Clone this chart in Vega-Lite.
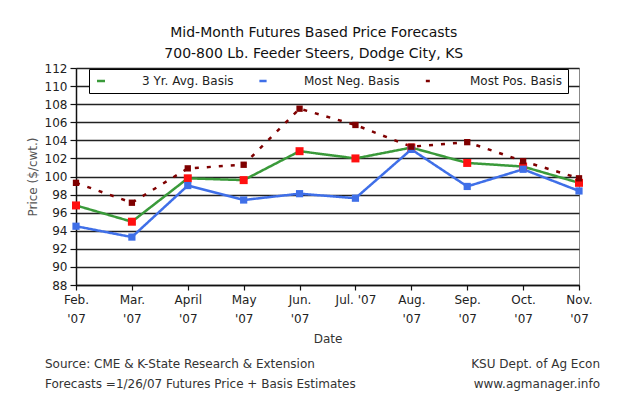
{
  "$schema": "https://vega.github.io/schema/vega-lite/v6.json",
  "background": "white",
  "padding": {"left": 25, "top": 25, "right": 5, "bottom": 5},
  "config": {
    "font": "DejaVu Sans",
    "view": {"stroke": null},
    "concat": {"spacing": 13}
  },
  "title": {
    "text": ["Mid-Month Futures Based Price Forecasts", "700-800 Lb. Feeder Steers, Dodge City, KS"],
    "fontSize": 14,
    "fontWeight": "normal",
    "color": "#111",
    "lineHeight": 21,
    "anchor": "middle",
    "dx": 1,
    "offset": 1
  },
  "vconcat": [
    {
      "width": 503,
      "height": 217,
      "view": {"stroke": "#888", "strokeWidth": 1},
      "data": {
        "values": [
          {"month": "Feb. '07", "series": "3 Yr. Avg. Basis", "price": 96.8},
          {"month": "Mar. '07", "series": "3 Yr. Avg. Basis", "price": 95.0},
          {"month": "April '07", "series": "3 Yr. Avg. Basis", "price": 99.8},
          {"month": "May '07", "series": "3 Yr. Avg. Basis", "price": 99.6},
          {"month": "Jun. '07", "series": "3 Yr. Avg. Basis", "price": 102.8},
          {"month": "Jul. '07", "series": "3 Yr. Avg. Basis", "price": 102.0},
          {"month": "Aug. '07", "series": "3 Yr. Avg. Basis", "price": 103.2},
          {"month": "Sep. '07", "series": "3 Yr. Avg. Basis", "price": 101.5},
          {"month": "Oct. '07", "series": "3 Yr. Avg. Basis", "price": 101.1},
          {"month": "Nov. '07", "series": "3 Yr. Avg. Basis", "price": 99.3},
          {"month": "Feb. '07", "series": "Most Neg. Basis", "price": 94.5},
          {"month": "Mar. '07", "series": "Most Neg. Basis", "price": 93.3},
          {"month": "April '07", "series": "Most Neg. Basis", "price": 99.0},
          {"month": "May '07", "series": "Most Neg. Basis", "price": 97.4},
          {"month": "Jun. '07", "series": "Most Neg. Basis", "price": 98.1},
          {"month": "Jul. '07", "series": "Most Neg. Basis", "price": 97.6},
          {"month": "Aug. '07", "series": "Most Neg. Basis", "price": 103.0},
          {"month": "Sep. '07", "series": "Most Neg. Basis", "price": 98.9},
          {"month": "Oct. '07", "series": "Most Neg. Basis", "price": 100.8},
          {"month": "Nov. '07", "series": "Most Neg. Basis", "price": 98.4},
          {"month": "Feb. '07", "series": "Most Pos. Basis", "price": 99.3},
          {"month": "Mar. '07", "series": "Most Pos. Basis", "price": 97.1},
          {"month": "April '07", "series": "Most Pos. Basis", "price": 100.9},
          {"month": "May '07", "series": "Most Pos. Basis", "price": 101.3},
          {"month": "Jun. '07", "series": "Most Pos. Basis", "price": 107.5},
          {"month": "Jul. '07", "series": "Most Pos. Basis", "price": 105.7},
          {"month": "Aug. '07", "series": "Most Pos. Basis", "price": 103.3},
          {"month": "Sep. '07", "series": "Most Pos. Basis", "price": 103.8},
          {"month": "Oct. '07", "series": "Most Pos. Basis", "price": 101.7},
          {"month": "Nov. '07", "series": "Most Pos. Basis", "price": 99.8}
        ]
      },
      "encoding": {
        "x": {
          "field": "month",
          "type": "ordinal",
          "sort": null,
          "scale": {"type": "point", "padding": 0},
          "title": "Date",
          "axis": {
            "labelAngle": 0,
            "labelExpr": "substring(datum.value, 0, 3) == 'Jul' ? datum.value : split(datum.value, ' ')",
            "labelFontSize": 12,
            "labelLineHeight": 19,
            "labelColor": "#222",
            "labelPadding": 4,
            "domainColor": "#111",
            "domainWidth": 1.5,
            "tickColor": "#111",
            "tickSize": 5,
            "tickWidth": 1.2,
            "titleFontSize": 12,
            "titleFontWeight": "normal",
            "titleColor": "#333",
            "titlePadding": 9,
            "grid": false
          }
        },
        "y": {
          "field": "price",
          "type": "quantitative",
          "scale": {"domain": [88, 112], "nice": false, "zero": false},
          "title": "Price ($/cwt.)",
          "axis": {
            "values": [88, 90, 92, 94, 96, 98, 100, 102, 104, 106, 108, 110, 112],
            "grid": true,
            "gridColor": "#222",
            "gridWidth": 1.3,
            "domainColor": "#111",
            "domainWidth": 1.5,
            "tickColor": "#111",
            "tickSize": 6,
            "tickWidth": 1.2,
            "labelFontSize": 12,
            "labelColor": "#222",
            "labelPadding": 3,
            "titleFontSize": 12,
            "titleFontWeight": "normal",
            "titleColor": "#555",
            "titlePadding": 5
          }
        }
      },
      "layer": [
        {
          "mark": {"type": "line", "strokeCap": "butt"},
          "encoding": {
            "color": {
              "field": "series",
              "type": "nominal",
              "scale": {
                "domain": ["3 Yr. Avg. Basis", "Most Neg. Basis", "Most Pos. Basis"],
                "range": ["#3a9a3a", "#3f6fe8", "#7f0000"]
              },
              "legend": {
                "title": null,
                "orient": "none",
                "legendX": 13,
                "legendY": 1,
                "direction": "horizontal",
                "fillColor": "white",
                "strokeColor": "#000",
                "padding": 6,
                "symbolStrokeWidth": 2.5,
                "labelFontSize": 12,
                "labelColor": "#222",
                "labelOffset": 35,
                "columnPadding": 20
              }
            },
            "strokeDash": {
              "field": "series",
              "type": "nominal",
              "scale": {
                "domain": ["3 Yr. Avg. Basis", "Most Neg. Basis", "Most Pos. Basis"],
                "range": [[1, 0], [1, 0], [4, 8]]
              },
              "legend": null
            },
            "strokeWidth": {
              "field": "series",
              "type": "nominal",
              "scale": {
                "domain": ["3 Yr. Avg. Basis", "Most Neg. Basis", "Most Pos. Basis"],
                "range": [2.5, 2.5, 3.5]
              },
              "legend": null
            }
          }
        },
        {
          "mark": {"type": "point", "shape": "square", "filled": true, "opacity": 1, "strokeWidth": 0},
          "encoding": {
            "fill": {
              "field": "series",
              "type": "nominal",
              "scale": {
                "domain": ["3 Yr. Avg. Basis", "Most Neg. Basis", "Most Pos. Basis"],
                "range": ["#ff1010", "#3f6fe8", "#7f0000"]
              },
              "legend": null
            },
            "size": {
              "field": "series",
              "type": "nominal",
              "scale": {
                "domain": ["3 Yr. Avg. Basis", "Most Neg. Basis", "Most Pos. Basis"],
                "range": [64, 40, 81]
              },
              "legend": null
            }
          }
        }
      ]
    },
    {
      "hconcat": [
        {
          "width": 300,
          "height": 2,
          "data": {"values": [{"t": ""}]},
          "mark": {"type": "text"},
          "encoding": {"text": {"field": "t"}},
          "title": {
            "text": ["Source:  CME & K-State Research & Extension", "Forecasts =1/26/07 Futures Price + Basis Estimates"],
            "anchor": "start",
            "fontSize": 12,
            "fontWeight": "normal",
            "color": "#333",
            "lineHeight": 20,
            "dx": -31
          }
        },
        {
          "width": 207,
          "height": 2,
          "data": {"values": [{"t": ""}]},
          "mark": {"type": "text"},
          "encoding": {"text": {"field": "t"}},
          "title": {
            "text": ["KSU Dept. of Ag Econ", "www.agmanager.info"],
            "anchor": "end",
            "fontSize": 12,
            "fontWeight": "normal",
            "color": "#333",
            "lineHeight": 20,
            "dx": 4
          }
        }
      ]
    }
  ]
}
